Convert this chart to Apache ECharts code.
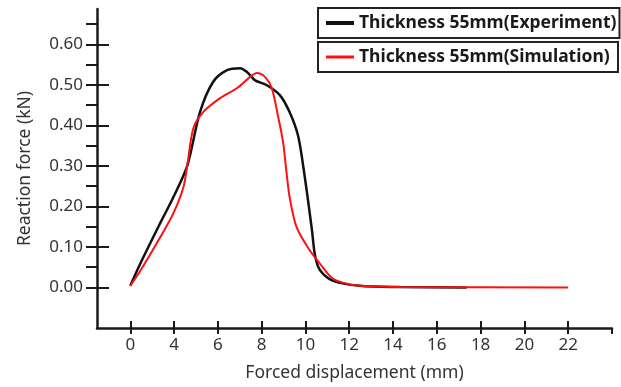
<!DOCTYPE html>
<html>
<head>
<meta charset="utf-8">
<script src="https://cdn.jsdelivr.net/npm/echarts@6/dist/echarts.min.js"></script>
<style>
  html, body {margin: 0; padding: 0; background: #fff;}
  #chart {width: 621px; height: 387px;}
</style>
</head>
<body>
<div id="chart"></div>
<script>
// x is stored in tick positions: tick k carries label xTickLabels[k]
const xTickLabels = ['0', '4', '6', '8', '10', '12', '14', '16', '18', '20', '22'];
const yTickValues = [0, 0.1, 0.2, 0.3, 0.4, 0.5, 0.6];
const yMinorValues = [0.05, 0.15, 0.25, 0.35, 0.45, 0.55, 0.65];

const experimentPos = [0, 0.23, 0.68, 0.98, 1.30, 1.59, 1.89, 2.21, 2.51, 2.67, 2.85, 3.12, 3.42, 3.64, 3.83, 3.94, 4.05, 4.15, 4.22, 4.33, 4.62, 5.24, 6.15, 7.68];
const experimentForce = [0.004, 0.059, 0.158, 0.222, 0.300, 0.432, 0.507, 0.536, 0.541, 0.531, 0.511, 0.499, 0.474, 0.432, 0.375, 0.306, 0.222, 0.140, 0.078, 0.043, 0.017, 0.004, 0.001, 0];

const simulationPos = [0, 0.23, 0.68, 0.98, 1.21, 1.30, 1.44, 1.66, 2.05, 2.44, 2.73, 2.89, 3.08, 3.23, 3.37, 3.49, 3.55, 3.64, 3.80, 4.10, 4.33, 4.60, 4.85, 5.24, 6.15, 10.0];
const simulationForce = [0.004, 0.041, 0.123, 0.182, 0.246, 0.300, 0.393, 0.432, 0.467, 0.492, 0.519, 0.529, 0.519, 0.492, 0.425, 0.358, 0.301, 0.222, 0.148, 0.091, 0.059, 0.024, 0.012, 0.004, 0.001, 0];

const zip = (xs, ys) => xs.map((x, i) => [x, ys[i]]);
const majorX = xTickLabels.map((_, i) => i);

const font = 'Noto Sans';
const axisColor = '#1a1a1a';
const xMin = -0.76, xMax = 11;
const yMin = -0.1, yMax = 0.687;

const legendText = {fontFamily: font, fontWeight: 'bold', fontSize: 17.5, color: '#1a1a1a', lineHeight: 20, width: 256};

const chart = echarts.init(document.getElementById('chart'));
chart.setOption({
    animation: false,
    textStyle: {fontFamily: font},
    grid: {left: 97, right: 9, top: 9, bottom: 59, containLabel: false},
    legend: [{
        data: ['Thickness 55mm(Experiment)'],
        left: 318, top: 8,
        icon: 'rect',
        itemWidth: 28, itemHeight: 4,
        borderColor: '#222', borderWidth: 2,
        padding: [5, 3, 5, 8],
        textStyle: legendText
    }, {
        data: ['Thickness 55mm(Simulation)'],
        left: 318, top: 42,
        icon: 'rect',
        itemWidth: 28, itemHeight: 3,
        borderColor: '#222', borderWidth: 2,
        padding: [5, 3, 5, 8],
        textStyle: legendText
    }],
    xAxis: [{
        type: 'value', min: xMin, max: xMax,
        name: 'Forced displacement (mm)',
        nameLocation: 'middle', nameGap: 36,
        nameTextStyle: {fontFamily: font, fontSize: 17.5, color: '#333'},
        axisLine: {onZero: false, lineStyle: {color: axisColor, width: 2.5}},
        axisTick: {show: true, length: 6, customValues: majorX.concat([xMax]), lineStyle: {color: axisColor, width: 2}},
        axisLabel: {
            customValues: majorX, margin: 9,
            fontFamily: font, fontSize: 17, color: '#333',
            formatter: v => xTickLabels[Math.round(v)]
        },
        splitLine: {show: false}
    }, {
        type: 'value', min: xMin, max: xMax, position: 'bottom',
        axisLine: {show: false, onZero: false},
        axisTick: {show: true, inside: true, length: 7, customValues: majorX, lineStyle: {color: axisColor, width: 2}},
        axisLabel: {show: false},
        splitLine: {show: false}
    }],
    yAxis: [{
        type: 'value', min: yMin, max: yMax, position: 'left',
        name: 'Reaction force (kN)',
        nameLocation: 'middle', nameGap: 63,
        nameTextStyle: {fontFamily: font, fontSize: 17.5, color: '#333'},
        axisLine: {show: true, onZero: false, lineStyle: {color: axisColor, width: 2.5}},
        axisTick: {show: true, length: 11, customValues: yTickValues, lineStyle: {color: axisColor, width: 2}},
        axisLabel: {
            customValues: yTickValues, margin: 14,
            fontFamily: font, fontSize: 17, color: '#333',
            formatter: v => v.toFixed(2)
        },
        splitLine: {show: false}
    }, {
        type: 'value', min: yMin, max: yMax, position: 'left',
        axisLine: {show: false, onZero: false},
        axisTick: {show: true, inside: true, length: 12, customValues: yTickValues, lineStyle: {color: axisColor, width: 2}},
        axisLabel: {show: false},
        splitLine: {show: false}
    }, {
        type: 'value', min: yMin, max: yMax, position: 'left',
        axisLine: {show: false, onZero: false},
        axisTick: {show: true, length: 11, customValues: yMinorValues, lineStyle: {color: axisColor, width: 2}},
        axisLabel: {show: false},
        splitLine: {show: false}
    }],
    series: [{
        name: 'Thickness 55mm(Experiment)',
        type: 'line',
        data: zip(experimentPos, experimentForce),
        smooth: 0.3,
        showSymbol: false,
        itemStyle: {color: '#111'},
        lineStyle: {color: '#111', width: 2.5}
    }, {
        name: 'Thickness 55mm(Simulation)',
        type: 'line',
        data: zip(simulationPos, simulationForce),
        smooth: 0.3,
        showSymbol: false,
        itemStyle: {color: '#ff1010'},
        lineStyle: {color: '#ff1010', width: 2}
    }]
});
</script>
</body>
</html>
